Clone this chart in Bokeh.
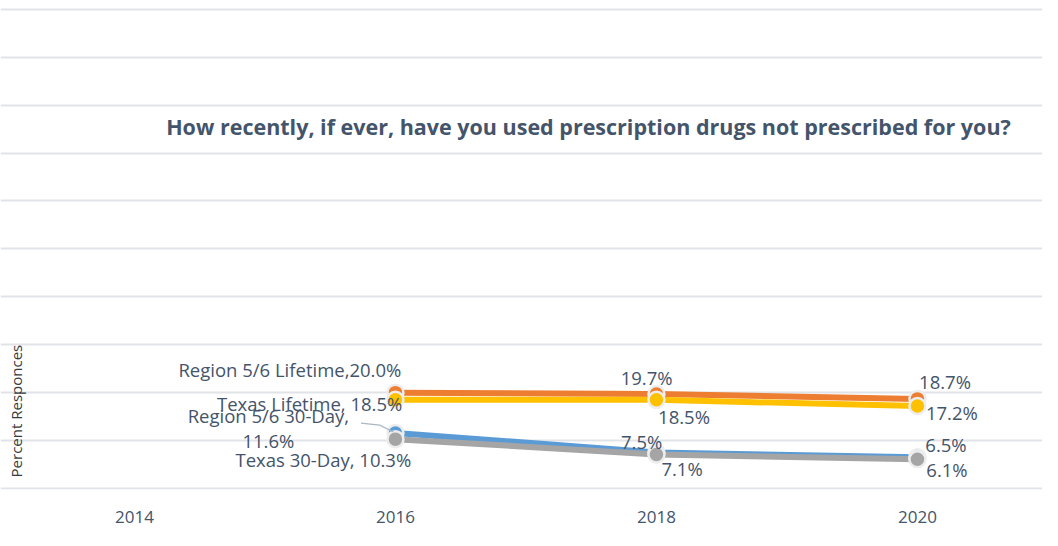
import math
from bokeh.plotting import figure
from bokeh.models import Label, FixedTicker, Range1d
from bokeh.core.properties import value
from bokeh.embed import file_html
from bokeh.resources import INLINE

# ---- data ----
years = [2016, 2018, 2020]
tick_years = [2014, 2016, 2018, 2020]
series_names = ["Region 5/6 Lifetime", "Texas Lifetime", "Region 5/6 30-Day", "Texas 30-Day"]
region_lifetime = [20.0, 19.7, 18.7]
texas_lifetime = [18.5, 18.5, 17.2]
region_30day = [11.6, 7.5, 6.5]
texas_30day = [10.3, 7.1, 6.1]
title_text = "How recently, if ever, have you used prescription drugs not prescribed for you?"
y_title = "Percent Responces"

series_values = [region_lifetime, texas_lifetime, region_30day, texas_30day]
colors = ["#ED7D31", "#FFC000", "#5B9BD5", "#A5A5A5"]

# label placement (pixel offsets, screen: +y is down) and alignment
label_dx = [[6, -10, 28], [7, 28, 35], [-129, -15, 29], [16, 26, 30]]
label_dy = [[-24, -17.5, -17.5], [3.5, 17.5, 7], [-5, -11.5, -13.5], [20.5, 14.5, 10.5]]
label_align = [["right", "center", "center"], ["right", "center", "center"],
               ["center", "center", "center"], ["right", "center", "center"]]

TXT = "#44546A"
FONT = "Open Sans"

W, H = 1042, 530
SX, SY = W / 1058, H / 546          # reference-pixel -> figure-pixel scale
BOTTOM = 41                          # space for the x axis
FH = H - BOTTOM                      # frame height

ppy = (931 - 136) * SX / 6           # pixels per year
x0 = 2014 - 136 * SX / ppy
x1 = x0 + W / ppy
zero_px = FH - 1.0
ppu = (zero_px - 9 * SY) / 100       # pixels per percent
ytop = 100 + 9 * SY / ppu
ybot = ytop - FH / ppu


def dx_(fx):
    return x0 + fx / ppy


def dy_(fy):
    return ytop - fy / ppu


p = figure(width=W, height=H, output_backend="svg", toolbar_location=None,
           x_range=Range1d(x0, x1), y_range=Range1d(ybot, ytop),
           min_border_left=0, min_border_right=0, min_border_top=0, min_border_bottom=BOTTOM)
p.outline_line_color = None
p.background_fill_color = "white"
p.border_fill_color = "white"

p.yaxis.visible = False
p.xgrid.grid_line_color = None
p.ygrid.ticker = FixedTicker(ticks=list(range(0, 101, 10)))
p.ygrid.grid_line_color = "#E0E3E8"
p.ygrid.grid_line_width = 2

xa = p.xaxis[0]
xa.ticker = FixedTicker(ticks=tick_years)
xa.axis_line_color = None
xa.major_tick_line_color = None
xa.minor_tick_line_color = None
xa.major_tick_out = 0
xa.major_tick_in = 0
xa.major_label_standoff = 21
xa.major_label_text_font = FONT
xa.major_label_text_font_size = "17px"
xa.major_label_text_color = TXT

# lines and markers
for vals, col in zip(series_values, colors):
    p.line(years, vals, line_color=col, line_width=6, line_cap="round")
for vals, col in zip(series_values, colors):
    p.scatter(years, vals, size=16, fill_color=col, line_color="#EDEDED", line_width=2.5)

# leader line for Region 5/6 30-Day label
lead_px = [(-35, -10), (-16, -8), (-2, -1)]
p.line([years[0] + dx * SX / ppy for dx, dy in lead_px],
       [region_30day[0] - dy * SY / ppu for dx, dy in lead_px],
       line_color="#A9B8C8", line_width=1.2)

# data labels
for si, (name, vals) in enumerate(zip(series_names, series_values)):
    for yi, (yr, v) in enumerate(zip(years, vals)):
        t = f"{v:.1f}%"
        if yi == 0:
            if si == 0:
                t = f"{name},{t}"
            elif si == 2:
                t = f"{name},\n{t}"
            else:
                t = f"{name}, {t}"
        p.text(x=[yr], y=[v], text=[t], x_offset=label_dx[si][yi] * SX, y_offset=label_dy[si][yi] * SY,
               text_align=label_align[si][yi], text_baseline="middle",
               text_font=value(FONT), text_font_size="18.5px", text_color=TXT,
               text_line_height=1.0)

# title
p.add_layout(Label(x=dx_(597 * SX), y=dy_(130 * SY), text=title_text,
                   text_align="center", text_baseline="middle", text_font=FONT,
                   text_font_style="bold", text_font_size="21.5px", text_color=TXT))
# y-axis title drawn inside the plot
p.add_layout(Label(x=dx_(16 * SX), y=dy_(423 * SY), text=y_title,
                   angle=math.pi / 2, text_align="center", text_baseline="middle",
                   text_font=FONT, text_font_size="15px", text_color="#3A3A3A"))

open("out.html", "w").write(file_html(p, INLINE))
